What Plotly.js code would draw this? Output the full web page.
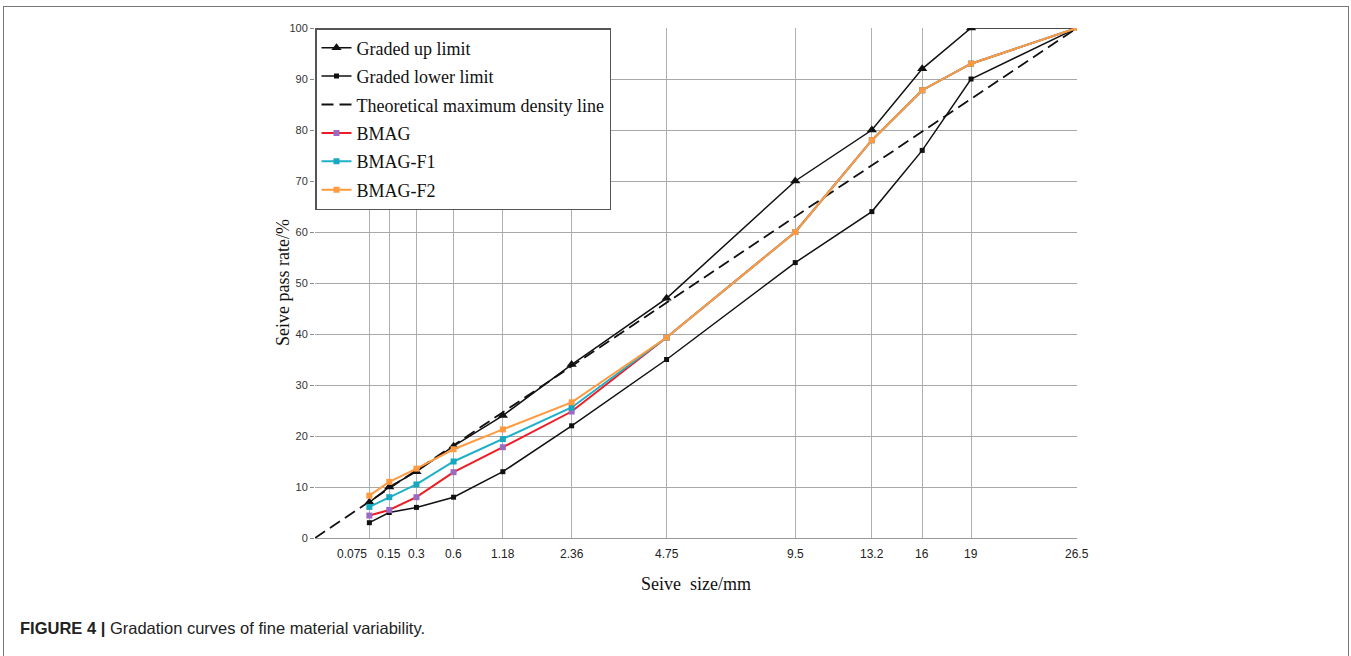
<!DOCTYPE html>
<html>
<head>
<meta charset="utf-8">
<script src="https://cdn.plot.ly/plotly-3.0.1.min.js"></script>
<style>
  html, body { margin: 0; padding: 0; background: #ffffff; }
  #frame { position: absolute; left: 3px; top: 6px; width: 1344px; height: 660px;
           border-left: 1.5px solid #777; border-top: 1.5px solid #777; border-right: 1.5px solid #777; }
  #chart { position: absolute; left: 0; top: 0; width: 1351px; height: 656px; }
</style>
</head>
<body>
<div id="frame"></div>
<div id="chart"></div>
<script>
// ---- data ----
const sieves = [0.075, 0.15, 0.3, 0.6, 1.18, 2.36, 4.75, 9.5, 13.2, 16, 19, 26.5];
const sieveLabels = ['0.075', '0.15', '0.3', '0.6', '1.18', '2.36', '4.75', '9.5', '13.2', '16', '19', '26.5'];
const upperLimit = [7, 10, 13, 18, 24, 34, 47, 70, 80, 92, 100, 100];
const lowerLimit = [3, 5, 6, 8, 13, 22, 35, 54, 64, 76, 90, 100];
const theoreticalSizes = [0, 26.5];
const theoreticalPass = [0, 100];
const bmag   = [4.4, 5.5, 8.0, 12.9, 17.8, 24.8, 39.3, 60, 78, 87.8, 93, 100];
const bmagF1 = [6.1, 8.0, 10.5, 15.0, 19.4, 25.6, 39.3, 60, 78, 87.8, 93, 100];
const bmagF2 = [8.3, 11.0, 13.6, 17.4, 21.3, 26.6, 39.3, 60, 78, 87.8, 93, 100];
const yTicks = [0, 10, 20, 30, 40, 50, 60, 70, 80, 90, 100];

// gradation chart: x axis is a 0.45-power scale of sieve size
const POWER = 0.45;
const tx = d => Math.pow(d, POWER);

const serif = 'Liberation Serif, Times New Roman, serif';
const sans = 'Liberation Sans, Arial, sans-serif';

function trace(name, sizes, vals, line, marker, group) {
  const t = {
    type: 'scatter', mode: marker ? 'lines+markers' : 'lines', name: name,
    x: sizes.map(tx), y: vals, line: line,
    legendgroup: group, hoverinfo: 'x+y'
  };
  if (marker) t.marker = marker;
  return t;
}

const data = [
  trace('Graded up limit', sieves, upperLimit, {color: '#111', width: 1.5},
        {symbol: 'triangle-up', size: 9, color: '#111'}, 'g1'),
  trace('Graded lower limit', sieves, lowerLimit, {color: '#111', width: 1.5},
        {symbol: 'square', size: 5, color: '#111'}, 'g2'),
  trace('Theoretical maximum density line', theoreticalSizes, theoreticalPass,
        {color: '#111', width: 1.8, dash: '12px,6px'}, null, 'g3'),
  trace('BMAG', sieves, bmag, {color: '#ee1c25', width: 2},
        {symbol: 'square', size: 6, color: '#9b6bc4'}, 'g4'),
  trace('BMAG-F1', sieves, bmagF1, {color: '#1fb0c8', width: 2},
        {symbol: 'square', size: 6, color: '#17a8c0'}, 'g5'),
  trace('BMAG-F2', sieves, bmagF2, {color: '#ff9a40', width: 2},
        {symbol: 'square', size: 6, color: '#ff9a40'}, 'g6')
];

// x tick labels (the first label sits slightly left of its grid line in the reference)
const annotations = sieves.map((s, i) => ({
  xref: 'x', yref: 'paper', x: tx(s), y: 0, yanchor: 'top', yshift: -7,
  xshift: i === 0 ? -17 : 0,
  text: sieveLabels[i], showarrow: false,
  font: {family: sans, size: 12, color: '#222'}
}));
// y axis title
annotations.push({
  xref: 'paper', yref: 'paper', x: -32 / 762, y: 0.5, xanchor: 'center', yanchor: 'middle',
  textangle: -90, text: 'Seive pass rate/%', showarrow: false,
  font: {family: serif, size: 18, color: '#111'}
});
// figure caption
annotations.push({
  xref: 'paper', yref: 'paper', x: -297 / 762, y: -90 / 510, xanchor: 'left', yanchor: 'middle',
  text: '<b>FIGURE 4 |</b> Gradation curves of fine material variability.', showarrow: false,
  font: {family: sans, size: 16.5, color: '#222'}
});

const layout = {
  width: 1351, height: 656,
  margin: {l: 315, r: 274, t: 28, b: 118},
  paper_bgcolor: 'rgba(0,0,0,0)', plot_bgcolor: '#ffffff',
  showlegend: true,
  legend: {
    x: 0, y: 1, xanchor: 'left', yanchor: 'top',
    bgcolor: '#ffffff', bordercolor: '#555', borderwidth: 1.5,
    font: {family: serif, size: 18, color: '#111'},
    tracegroupgap: 2, itemwidth: 30
  },
  xaxis: {
    range: [0, tx(26.5)], tickvals: sieves.map(tx), showticklabels: false,
    showgrid: true, gridcolor: '#b0b0b0', gridwidth: 1,
    zeroline: false, showline: true, linecolor: '#999', linewidth: 1, ticks: '',
    title: {text: 'Seive\u00a0 size/mm', font: {family: serif, size: 18, color: '#111'}, standoff: 39}
  },
  yaxis: {
    range: [0, 100], tickvals: yTicks, ticktext: yTicks.map(String),
    showgrid: true, gridcolor: '#a8a8a8', gridwidth: 1,
    zeroline: false, showline: false, ticks: 'outside', ticklen: 4, tickcolor: '#888',
    tickfont: {family: sans, size: 11, color: '#333'}
  },
  annotations: annotations
};

Plotly.newPlot('chart', data, layout, {displayModeBar: false, responsive: false});
</script>
</body>
</html>
